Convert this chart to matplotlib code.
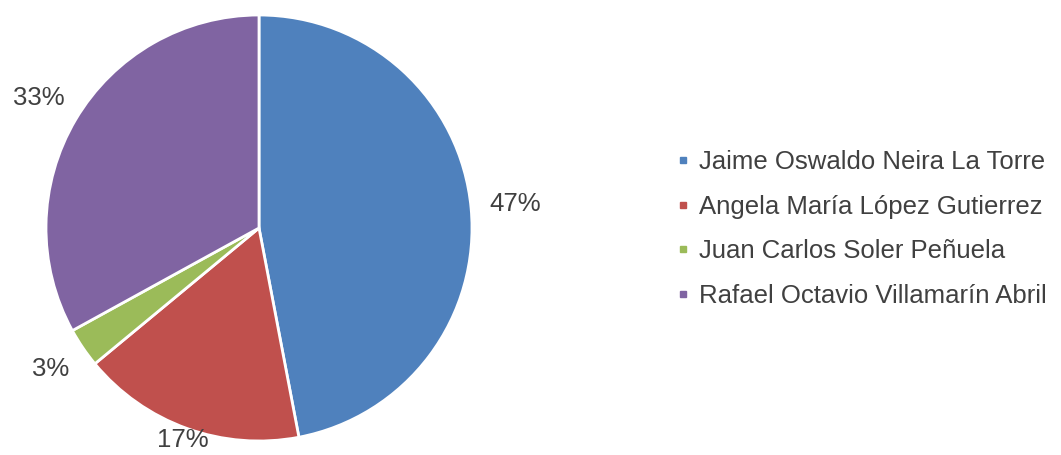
import matplotlib.pyplot as plt
from matplotlib.lines import Line2D
import numpy as np

plt.rcParams['font.family'] = ['Liberation Sans', 'DejaVu Sans']

names = ['Jaime Oswaldo Neira La Torre', 'Angela María López Gutierrez',
         'Juan Carlos Soler Peñuela', 'Rafael Octavio Villamarín Abril']
shares = [47, 17, 3, 33]
colors = ['#4F81BD', '#C0504D', '#9BBB59', '#8064A2']
label_dist = [1.21, 1.06, 1.18, 1.2]
txt = '#404040'

fig = plt.figure(figsize=(10.61, 4.55), dpi=100)
ax = fig.add_axes([46 / 1061, 14 / 455, 426 / 1061, 426 / 455])

wedges, _ = ax.pie(shares, colors=colors, startangle=90, counterclock=False,
                   wedgeprops=dict(edgecolor='white', linewidth=2))
ax.set_xlim(-1, 1)
ax.set_ylim(-1, 1)

# percentage labels outside the slices
for w, v, d in zip(wedges, shares, label_dist):
    ang = np.deg2rad((w.theta1 + w.theta2) / 2)
    ax.text(d * np.cos(ang), d * np.sin(ang), f'{v}%', ha='center', va='center',
            fontsize=18.5, color=txt, clip_on=False)

handles = [Line2D([], [], marker='s', linestyle='', markersize=5, color=c) for c in colors]
leg = fig.legend(handles, names, loc='center left', bbox_to_anchor=(0.636, 0.497),
                 frameon=False, fontsize=18.5, labelspacing=0.8, handlelength=0.6,
                 handletextpad=0.35, borderpad=0, borderaxespad=0, labelcolor=txt)

fig.savefig('out.png', dpi=100)
